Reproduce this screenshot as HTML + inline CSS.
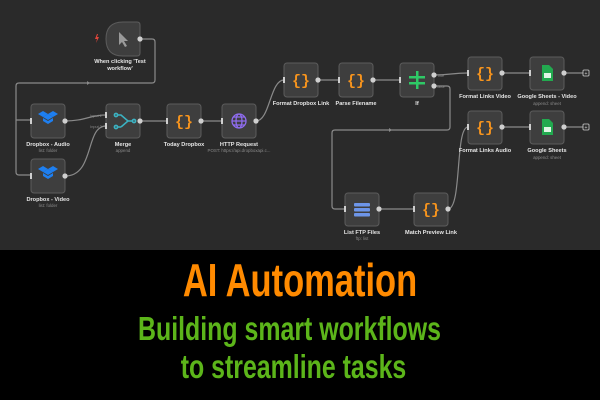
<!DOCTYPE html>
<html><head><meta charset="utf-8"><style>
html,body{margin:0;padding:0;width:600px;height:400px;overflow:hidden;background:#000}
svg{display:block}
.n{fill:#3e3e3e;stroke:#5c5c5c;stroke-width:1}
.l{fill:none;stroke:#8a8a8a;stroke-width:1.2}
.d{fill:#cfcfcf}
.t{fill:#e6e6e6;font-family:"Liberation Sans",sans-serif;font-size:5.6px;font-weight:bold;text-anchor:middle}
.s{fill:#8a8a8a;font-family:"Liberation Sans",sans-serif;font-size:4.4px;text-anchor:middle}
.br{fill:#f7941d;font-family:"Liberation Mono",monospace;font-size:15px;font-weight:bold;text-anchor:middle}
</style></head><body>
<svg width="600" height="400" viewBox="0 0 600 400" xmlns="http://www.w3.org/2000/svg">
<rect x="0" y="0" width="600" height="250" fill="#2a2a2a"/>
<rect x="0" y="250" width="600" height="150" fill="#000"/>
<path class="l" d="M140 39 H152 Q155 39 155 42 V80 Q155 83 152 83 H19 Q16 83 16 86 V172 Q16 175 19 175 H31 M16 120 H31"/>
<path class="l" d="M65 121 C85 121 90 115 106 115 M65 176 C95 176 85 126 106 126"/>
<path class="l" d="M140 121 H167 M201 121 H222 M256 121 C270 121 270 80 284 80 M318 80 H339 M373 80 H400"/>
<path class="l" d="M434 75 C450 75 452 73 468 73 M502 73 H530 M564 73 H583"/>
<path class="l" d="M434 86 H447 Q450 86 450 89 V127 Q450 130 447 130 H335 Q332 130 332 133 V206 Q332 209 335 209 H345"/>
<path class="l" d="M379 209 H414 M448 209 C462 209 455 127 468 127 M502 127 H530 M564 127 H583"/>
<polygon points="90,83 87,81 87,85" fill="#8a8a8a"/>
<polygon points="392,130 389,128 389,132" fill="#8a8a8a"/>
<path class="n" d="M123 22 H137 Q140 22 140 25 V53 Q140 56 137 56 H123 Q106 56 106 39 Q106 22 123 22Z"/>
<path d="M119 32 L119 45 L122 42 L125 47 L127 46 L124 41 L128 41Z" fill="#9a9a9a"/>
<path d="M97 34 L95 39 L97 39 L96 43 L99 37 L97 37 L98 34Z" fill="#e0453a"/>
<text class="t" x="120" y="63">When clicking 'Test</text><text class="t" x="120" y="70">workflow'</text>
<g>
<rect class="n" x="31" y="104" width="34" height="34" rx="3"/>
<rect class="n" x="31" y="159" width="34" height="34" rx="3"/>
<rect class="n" x="106" y="104" width="34" height="34" rx="3"/>
<rect class="n" x="167" y="104" width="34" height="34" rx="3"/>
<rect class="n" x="222" y="104" width="34" height="34" rx="3"/>
<rect class="n" x="284" y="63" width="34" height="34" rx="3"/>
<rect class="n" x="339" y="63" width="34" height="34" rx="3"/>
<rect class="n" x="400" y="63" width="34" height="34" rx="3"/>
<rect class="n" x="468" y="57" width="34" height="33" rx="3"/>
<rect class="n" x="530" y="57" width="34" height="33" rx="3"/>
<rect class="n" x="468" y="111" width="34" height="33" rx="3"/>
<rect class="n" x="530" y="111" width="34" height="33" rx="3"/>
<rect class="n" x="345" y="193" width="34" height="33" rx="3"/>
<rect class="n" x="414" y="193" width="34" height="33" rx="3"/>
</g>
<g fill="#1e7ff0">
<polygon points="43,117 48,114 53,117 48,120"/><polygon points="43,117 38,114 43,111 48,114"/><polygon points="53,117 58,114 53,111 48,114"/><polygon points="43,118 48,121 53,118 53,121 48,124 43,121"/>
<polygon points="43,172 48,169 53,172 48,175"/><polygon points="43,172 38,169 43,166 48,169"/><polygon points="53,172 58,169 53,166 48,169"/><polygon points="43,173 48,176 53,173 53,176 48,179 43,176"/>
</g>
<g stroke="#3bb3c3" stroke-width="1.6" fill="none"><path d="M117 115 H121 L128 121 H133 M121 127 H117 M121 127 L128 121"/><circle cx="116" cy="115" r="1.6"/><circle cx="116" cy="127" r="1.6"/><circle cx="134" cy="121" r="1.6"/></g>
<text class="br" x="184" y="126">{}</text>
<text class="br" x="301" y="85">{}</text>
<text class="br" x="356" y="85">{}</text>
<text class="br" x="485" y="78">{}</text>
<text class="br" x="485" y="132">{}</text>
<text class="br" x="431" y="214">{}</text>
<g stroke="#8f6cf0" stroke-width="1.3" fill="none"><circle cx="239" cy="121" r="7"/><ellipse cx="239" cy="121" rx="3" ry="7"/><path d="M232 121 H246 M233 117 H245 M233 125 H245"/></g>
<g fill="#2ec866"><rect x="409" y="76" width="16" height="2.5"/><rect x="409" y="82" width="16" height="2.5"/><rect x="416" y="71" width="2.5" height="18"/></g>
<g fill="#22a94f"><path d="M542 65 h7 l4 4 v12 h-11z"/><path d="M542 119 h7 l4 4 v12 h-11z"/></g>
<g fill="#e0f5e5"><rect x="544" y="73" width="7" height="5"/><rect x="544" y="127" width="7" height="5"/></g>
<g fill="#6d95e8"><rect x="354" y="203" width="16" height="3.5" rx="1"/><rect x="354" y="208" width="16" height="3.5" rx="1"/><rect x="354" y="213" width="16" height="3.5" rx="1"/></g>
<g class="d">
<circle cx="140" cy="39" r="2.6"/><circle cx="65" cy="121" r="2.6"/><circle cx="65" cy="176" r="2.6"/><circle cx="140" cy="121" r="2.6"/><circle cx="201" cy="121" r="2.6"/><circle cx="256" cy="121" r="2.6"/><circle cx="318" cy="80" r="2.6"/><circle cx="373" cy="80" r="2.6"/><circle cx="434" cy="75" r="2.6"/><circle cx="434" cy="86" r="2.6"/><circle cx="502" cy="73" r="2.6"/><circle cx="564" cy="73" r="2.6"/><circle cx="502" cy="127" r="2.6"/><circle cx="564" cy="127" r="2.6"/><circle cx="379" cy="209" r="2.6"/><circle cx="448" cy="209" r="2.6"/>
<rect x="30" y="118" width="2" height="6"/><rect x="30" y="173" width="2" height="6"/><rect x="105" y="112" width="2" height="6"/><rect x="105" y="123" width="2" height="6"/><rect x="166" y="118" width="2" height="6"/><rect x="221" y="118" width="2" height="6"/><rect x="283" y="77" width="2" height="6"/><rect x="338" y="77" width="2" height="6"/><rect x="399" y="77" width="2" height="6"/><rect x="467" y="70" width="2" height="6"/><rect x="529" y="70" width="2" height="6"/><rect x="467" y="124" width="2" height="6"/><rect x="529" y="124" width="2" height="6"/><rect x="344" y="206" width="2" height="6"/><rect x="413" y="206" width="2" height="6"/>
</g>
<g fill="none" stroke="#cfcfcf" stroke-width="0.8"><rect x="583" y="70" width="6" height="6" rx="1"/><rect x="583" y="124" width="6" height="6" rx="1"/></g>
<g fill="#cfcfcf" font-size="5" font-family="Liberation Sans" text-anchor="middle"><text x="586" y="75">+</text><text x="586" y="129">+</text></g>
<text class="s" x="96" y="117" style="font-size:3.8px">Input 1</text><text class="s" x="96" y="128" style="font-size:3.8px">Input 2</text>
<text class="s" x="441" y="77" style="font-size:3.5px">true</text><text class="s" x="441" y="88" style="font-size:3.5px">false</text>
<text class="t" x="48" y="146">Dropbox - Audio</text><text class="s" x="48" y="152">list: folder</text>
<text class="t" x="48" y="201">Dropbox - Video</text><text class="s" x="48" y="207">list: folder</text>
<text class="t" x="123" y="146">Merge</text><text class="s" x="123" y="152">append</text>
<text class="t" x="184" y="146">Today Dropbox</text>
<text class="t" x="239" y="146">HTTP Request</text><text class="s" x="239" y="152">POST: https://api.dropboxapi.c...</text>
<text class="t" x="301" y="105">Format Dropbox Link</text>
<text class="t" x="356" y="105">Parse Filename</text>
<text class="t" x="417" y="105">If</text>
<text class="t" x="485" y="98">Format Links Video</text>
<text class="t" x="547" y="98">Google Sheets - Video</text><text class="s" x="547" y="105">append: sheet</text>
<text class="t" x="485" y="152">Format Links Audio</text>
<text class="t" x="547" y="152">Google Sheets</text><text class="s" x="547" y="159">append: sheet</text>
<text class="t" x="362" y="234">List FTP Files</text><text class="s" x="362" y="240">ftp: list</text>
<text class="t" x="431" y="234">Match Preview Link</text>
<g font-family="'Liberation Sans Narrow','Liberation Sans',sans-serif" font-weight="bold" text-anchor="middle">
<text x="300" y="296" fill="#ff8a00" font-size="46" transform="translate(300 0) scale(0.75 1) translate(-300 0)">AI Automation</text>
<text x="289.5" y="340" fill="#5cb51a" font-size="33" transform="translate(289.5 0) scale(0.755 1) translate(-289.5 0)">Building smart workflows</text>
<text x="293.5" y="378" fill="#5cb51a" font-size="33" transform="translate(293.5 0) scale(0.755 1) translate(-293.5 0)">to streamline tasks</text>
</g>
</svg>
</body></html>
